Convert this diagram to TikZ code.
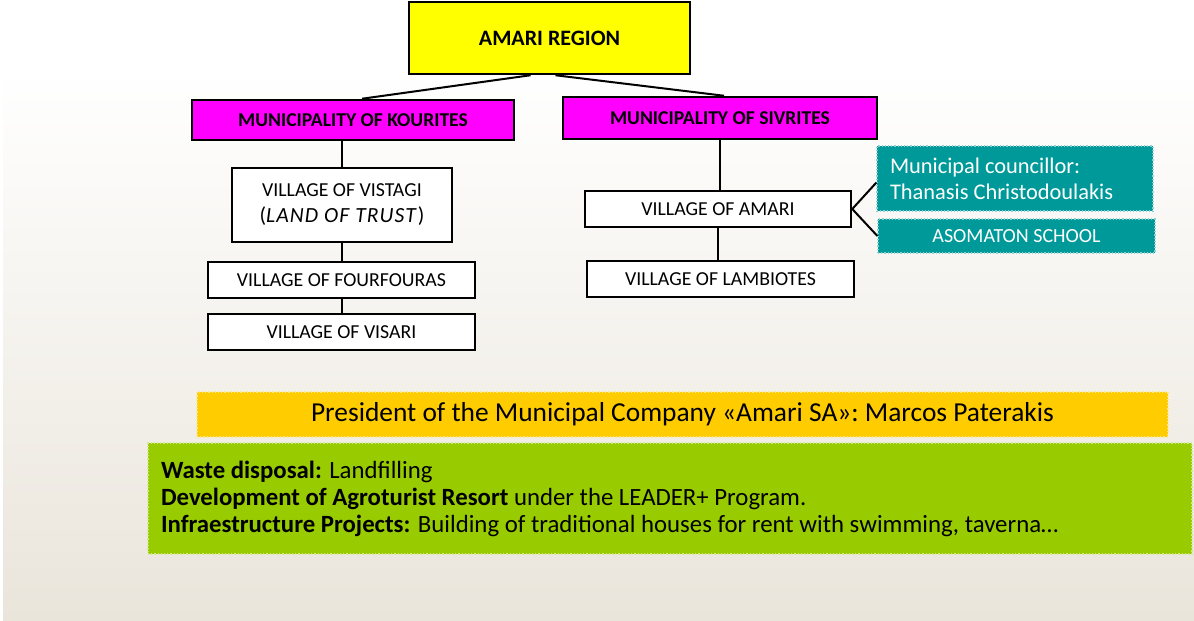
\documentclass[tikz,border=0pt]{standalone}
\usepackage{fontspec}
\setmainfont{Carlito}
\usetikzlibrary{calc}

\definecolor{regionyellow}{HTML}{FFFF00}
\definecolor{munimagenta}{HTML}{FF00FF}
\definecolor{infoteal}{HTML}{009999}
\definecolor{companygold}{HTML}{FFCC00}
\definecolor{worksgreen}{HTML}{99CC00}
\definecolor{hillgrey}{HTML}{E8EAEC}
\definecolor{hillsand}{HTML}{EAE5DB}

\begin{document}
\begin{tikzpicture}[x=0.5pt, y=-0.5pt, line width=1pt,
    boxsize/.style 2 args={minimum width=#1*0.5pt, minimum height=#2*0.5pt, inner sep=0pt},
    orgbox/.style={draw=black, line width=1.25pt, fill=white, align=center},
    regionbox/.style={orgbox, fill=regionyellow, font=\bfseries\fontsize{11}{13}\selectfont},
    munibox/.style={orgbox, fill=munimagenta, font=\bfseries\fontsize{9.8}{11.5}\selectfont},
    villagebox/.style={orgbox, font=\fontsize{9.9}{12}\selectfont},
    infobox/.style={fill=infoteal, draw=white!55!infoteal, densely dotted, line width=0.6pt, text=white},
    companybox/.style={fill=companygold, draw=white!55!companygold, densely dotted, line width=0.6pt},
    worksbox/.style={fill=worksgreen, draw=white!55!worksgreen, densely dotted, line width=0.6pt}]

    % page and faded landscape behind
    \useasboundingbox (0,0) rectangle (1194,621);
    \fill[white] (0,0) rectangle (1194,621);
    \shade[top color=white, middle color=hillgrey, bottom color=hillsand] (3,70) rectangle (1194,621);

    % Nodes {region, municipalities, villages}
    \node [regionbox, boxsize={281}{72}]     (amari)      at (549.5,38)  {AMARI REGION};
    \node [munibox, boxsize={322}{40}]       (kourites)   at (353,120)   {MUNICIPALITY OF KOURITES};
    \node [munibox, boxsize={314}{42}]       (sivrites)   at (720,118)   {MUNICIPALITY OF SIVRITES};
    \node [villagebox, boxsize={220}{74}]    (vistagi)    at (342,205)
        {VILLAGE OF VISTAGI\\[1pt]{\fontsize{10.8}{13}\selectfont(\textit{\addfontfeatures{LetterSpace=5}LAND OF TRUST})}};
    \node [villagebox, boxsize={267}{36}]    (fourfouras) at (341.5,280) {VILLAGE OF FOURFOURAS};
    \node [villagebox, boxsize={267}{36}]    (visari)     at (341.5,332) {VILLAGE OF VISARI};
    \node [villagebox, boxsize={266}{36}]    (vamari)     at (718,209)   {VILLAGE OF AMARI};
    \node [villagebox, boxsize={267}{36}]    (lambiotes)  at (720.5,279) {VILLAGE OF LAMBIOTES};

    % Nodes {people, school, company}
    \node [infobox, boxsize={276}{65}, text width=125pt, align=flush left,
           font=\fontsize{11.2}{13}\selectfont]                (councillor) at (1015,178.5)
        {Municipal councillor:\\Thanasis Christodoulakis};
    \node [infobox, boxsize={277}{34}, font=\fontsize{10}{12}\selectfont] (school) at (1016.5,236) {ASOMATON SCHOOL};
    \node [companybox, boxsize={971}{45}, font=\fontsize{13.7}{16}\selectfont] (president) at (682.5,414.5)
        {President of the Municipal Company «Amari SA»: Marcos Paterakis};
    \node [worksbox, boxsize={1044}{111}, text width=509pt, align=flush left,
           font=\fontsize{12.4}{13.5}\selectfont]              (works) at (670,498.5)
        {\textbf{Waste disposal:} Landfilling\\
         \textbf{Development of Agroturist Resort} under the LEADER+ Program.\\
         \textbf{Infraestructure Projects:} Building of traditional houses for rent with swimming, taverna\ldots\par\vspace*{3pt}};

    % Paths
    \draw ($(amari.south)+(-19,0)$) -- ($(kourites.north)+(9,0)$);
    \draw ($(amari.south)+(6,0)$)   -- ($(sivrites.north)+(4,0)$);
    \draw (kourites.south -| vistagi.north) -- (vistagi.north);
    \draw (vistagi.south) -- (vistagi.south |- fourfouras.north);
    \draw (fourfouras.south) -- (fourfouras.south |- visari.north);
    \draw (sivrites.south) -- (sivrites.south |- vamari.north);
    \draw (vamari.south) -- (vamari.south |- lambiotes.north);
    \draw ($(councillor.west)+(0,4)$) -- (vamari.east) -- (school.west);

\end{tikzpicture}
\end{document}
